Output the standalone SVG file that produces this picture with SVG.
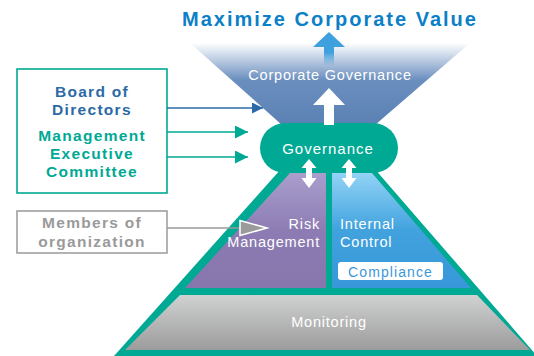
<svg xmlns="http://www.w3.org/2000/svg" width="534" height="356" viewBox="0 0 534 356">
<style>
text{font-family:"Liberation Sans",Arial,sans-serif}
.w{fill:#fff;font-size:14.5px;letter-spacing:0.8px}
.lb{font-size:15.5px;font-weight:bold;letter-spacing:1.3px;text-anchor:middle}
.teal{fill:#00a994}
</style>
<defs>
<linearGradient id="gFun" x1="0" y1="43" x2="0" y2="125" gradientUnits="userSpaceOnUse">
<stop offset="0" stop-color="#fff"/>
<stop offset="0.45" stop-color="#6a8fbf"/>
<stop offset="1" stop-color="#5b80b3"/>
</linearGradient>
<linearGradient id="gPur" x1="0" y1="173" x2="0" y2="288" gradientUnits="userSpaceOnUse">
<stop offset="0" stop-color="#aa9ecd"/>
<stop offset="0.5" stop-color="#8c7cb3"/>
<stop offset="1" stop-color="#8676ac"/>
</linearGradient>
<linearGradient id="gBlu" x1="0" y1="173" x2="0" y2="288" gradientUnits="userSpaceOnUse">
<stop offset="0" stop-color="#92d3f6"/>
<stop offset="0.5" stop-color="#41a2de"/>
<stop offset="1" stop-color="#3797d8"/>
</linearGradient>
<linearGradient id="gGry" x1="0" y1="295" x2="0" y2="350" gradientUnits="userSpaceOnUse">
<stop offset="0" stop-color="#d0d1d1"/>
<stop offset="1" stop-color="#9c9c9c"/>
</linearGradient>
<linearGradient id="gUp" x1="0" y1="32" x2="0" y2="66" gradientUnits="userSpaceOnUse">
<stop offset="0" stop-color="#3ea0dc"/>
<stop offset="0.6" stop-color="#3ea0dc"/>
<stop offset="1" stop-color="#3ea0dc" stop-opacity="0"/>
</linearGradient>
<marker id="mBlue" viewBox="0 0 10 10" refX="10" refY="5" markerWidth="15" markerHeight="11" markerUnits="userSpaceOnUse" orient="auto">
<path d="M0,0L10,5L0,10z" fill="#2b6aa6"/>
</marker>
<marker id="mTeal" viewBox="0 0 10 10" refX="10" refY="5" markerWidth="16" markerHeight="13" markerUnits="userSpaceOnUse" orient="auto">
<path d="M0,0L10,5L0,10z" fill="#00a994"/>
</marker>
</defs>

<g id="title">
<text x="330" y="26" text-anchor="middle" font-size="20" font-weight="bold" fill="#0b7fc7" letter-spacing="2">Maximize Corporate Value</text>
</g>

<g id="corporate-governance">
<polygon points="190,43 470,43 375,125 282,125" fill="url(#gFun)"/>
<text x="330" y="80" text-anchor="middle" class="w" letter-spacing="1.6">Corporate Governance</text>
</g>

<g id="pyramid">
<polygon points="289,160 367,160 537,356 114,356" fill="#00a994"/>
</g>

<g id="risk-management">
<polygon points="290,173 326,173 326,288 185,288" fill="url(#gPur)"/>
<text x="320" y="229" text-anchor="end" class="w">Risk</text>
<text x="320" y="247" text-anchor="end" class="w">Management</text>
</g>

<g id="internal-control">
<polygon points="332,173 372,173 471,288 332,288" fill="url(#gBlu)"/>
<text x="340" y="229" class="w">Internal</text>
<text x="340" y="247" class="w">Control</text>
</g>

<g id="compliance">
<rect x="338" y="262" width="105" height="18" rx="3" fill="#fff"/>
<text x="390.5" y="276.5" text-anchor="middle" font-size="14" fill="#3b97d9" letter-spacing="1.1">Compliance</text>
</g>

<g id="monitoring">
<polygon points="180,295 477,295 530,350 125,350" fill="url(#gGry)"/>
<text x="329" y="327" text-anchor="middle" class="w" letter-spacing="1.8">Monitoring</text>
</g>

<g id="governance">
<rect x="260" y="123" width="138" height="50" rx="25" fill="#00a994"/>
<text x="328" y="154" text-anchor="middle" fill="#fff" font-size="15" letter-spacing="1">Governance</text>
</g>

<g id="board-box">
<rect x="17" y="69" width="150" height="124" fill="#fff" stroke="#00a994" stroke-width="1.6"/>
<text x="92" y="97" class="lb" fill="#2b6aa6">Board of</text>
<text x="92" y="115" class="lb" fill="#2b6aa6">Directors</text>
<text x="92" y="141" class="lb teal">Management</text>
<text x="92" y="159" class="lb teal">Executive</text>
<text x="92" y="177" class="lb teal">Committee</text>
</g>

<g id="members-box">
<rect x="17" y="211" width="150" height="42" fill="#fff" stroke="#a0a0a0" stroke-width="1.6"/>
<text x="92" y="228" class="lb" fill="#9a9a9a">Members of</text>
<text x="92" y="247" class="lb" fill="#9a9a9a" letter-spacing="1.1">organization</text>
</g>

<g id="connectors">
<line x1="167" y1="108" x2="263" y2="108" stroke="#2b6aa6" stroke-width="1.6" marker-end="url(#mBlue)"/>
<line x1="167" y1="132" x2="248" y2="132" stroke="#00a994" stroke-width="1.6" marker-end="url(#mTeal)"/>
<line x1="167" y1="157" x2="248" y2="157" stroke="#00a994" stroke-width="1.6" marker-end="url(#mTeal)"/>
<line x1="167" y1="228" x2="242" y2="228" stroke="#9a9a9a" stroke-width="1.6"/>
<path d="M240,220.5L267,228L240,235.5z" fill="#9a9a9a" stroke="#fff" stroke-width="1.5" stroke-linejoin="miter"/>
<path d="M329,32L345,47L334,47L334,66L324,66L324,47L313,47z" fill="url(#gUp)"/>
<path d="M329,88L345,105L334,105L334,125L324,125L324,105L313,105z" fill="#fff"/>
<path d="M309,159L316.5,168L312,168L312,178L316.5,178L309,188L301.5,178L306,178L306,168L301.5,168z" fill="#fff"/>
<path d="M349,159L356.5,168L352,168L352,178L356.5,178L349,188L341.5,178L346,178L346,168L341.5,168z" fill="#fff"/>
</g>
</svg>
